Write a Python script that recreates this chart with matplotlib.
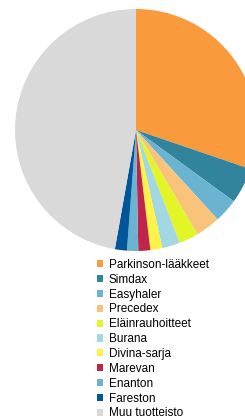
import matplotlib.pyplot as plt
from matplotlib.patches import Patch

labels = ["Parkinson-lääkkeet", "Simdax", "Easyhaler", "Precedex",
          "Eläinrauhoitteet", "Burana", "Divina-sarja", "Marevan",
          "Enanton", "Fareston", "Muu tuotteisto"]
shares = [30.3, 4.8, 3.2, 3.3, 2.6, 2.4, 1.6, 1.6, 1.5, 1.6, 47.3]
colors = ["#F99A3D", "#31849B", "#6AB4D2", "#FAC37C", "#E2F526", "#A3D8E2",
          "#FDF347", "#C0244A", "#6AB4D2", "#00559B", "#D9D9D9"]

plt.rcParams['font.family'] = ['Liberation Sans', 'DejaVu Sans']

fig = plt.figure(figsize=(2.45, 4.18), dpi=100)
ax = fig.add_axes([15 / 245, 167 / 418, 242 / 245, 242 / 418])
ax.pie(shares, colors=colors, startangle=90, counterclock=False,
       radius=1, wedgeprops=dict(linewidth=0))
ax.set_xlim(-1, 1)
ax.set_ylim(-1, 1)
ax.set_aspect('equal')
ax.axis('off')

handles = [Patch(facecolor=c, edgecolor='none') for c in colors]
fig.legend(handles, labels, loc='upper left',
           bbox_to_anchor=(97 / 245, 1 - 259 / 418),
           frameon=False, fontsize=8.5, handlelength=0.55, handleheight=0.55,
           handletextpad=0.45, labelspacing=0.24, borderpad=0, borderaxespad=0)

fig.savefig("out.png", dpi=100)
